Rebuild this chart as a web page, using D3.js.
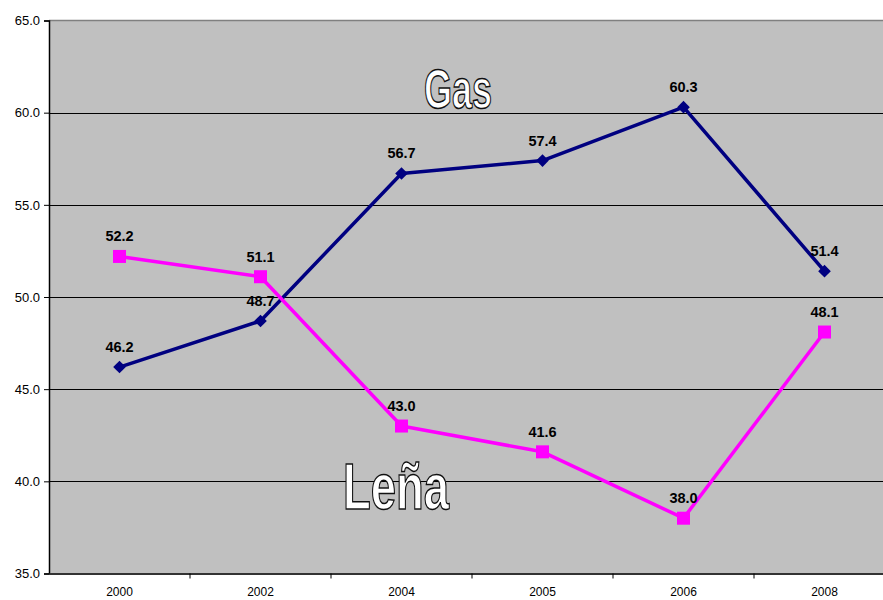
<!DOCTYPE html>
<html><head><meta charset="utf-8">
<script src="https://cdn.jsdelivr.net/npm/d3@7"></script>
<style>body{margin:0;background:#fff}svg{display:block}text{font-family:Arial,"Liberation Sans",sans-serif}</style>
</head><body><svg id="c" width="883" height="600"></svg>
<script>
const years = ["2000","2002","2004","2005","2006","2008"];
const gas = [46.2, 48.7, 56.7, 57.4, 60.3, 51.4];
const lena = [52.2, 51.1, 43.0, 41.6, 38.0, 48.1];
const yTicks = [35, 40, 45, 50, 55, 60, 65];

const svg = d3.select("#c");
const L = 49, R = 895, T = 20.5, B = 573.5;
const x = d3.scaleBand().domain(years).range([L, R]);
const y = d3.scaleLinear().domain([35, 65]).range([B, T]);
const cx = d => x(d) + x.bandwidth() / 2;

svg.append("rect").attr("x", L).attr("y", T).attr("width", R - L).attr("height", B - T).attr("fill", "#C0C0C0");
svg.append("line").attr("x1", L).attr("x2", R).attr("y1", T).attr("y2", T).attr("stroke", "#808080").attr("stroke-width", 1.5);

// gridlines
svg.append("g").selectAll("line").data(yTicks.filter(v => v > 35 && v < 65)).join("line")
  .attr("x1", L).attr("x2", R).attr("y1", d => Math.round(y(d)) + 0.5).attr("y2", d => Math.round(y(d)) + 0.5)
  .attr("stroke", "#000").attr("stroke-width", 1);

// y axis
const ya = svg.append("g").attr("transform", `translate(${L},0)`)
  .call(d3.axisLeft(y).tickValues(yTicks).tickFormat(d3.format(".1f")).tickSize(5).tickPadding(4));
ya.select(".domain").attr("stroke", "#000").attr("stroke-width", 1.5);
ya.selectAll("text").attr("font-size", 13).attr("fill", "#000").attr("font-family", "Arial, 'Liberation Sans', sans-serif");

// x axis
const xa = svg.append("g").attr("transform", `translate(0,${B})`)
  .call(d3.axisBottom(x).tickSize(0).tickPadding(14));
xa.select(".domain").attr("stroke", "#333").attr("stroke-width", 2);
xa.selectAll("text").attr("font-size", 12).attr("fill", "#000").attr("font-family", "Arial, 'Liberation Sans', sans-serif");
svg.append("g").selectAll("line").data(years.slice(1)).join("line")
  .attr("x1", d => x(d)).attr("x2", d => x(d)).attr("y1", B).attr("y2", B + 5).attr("stroke", "#000");

const line = d3.line().x((d, i) => cx(years[i])).y(d => y(d));

// Gas series
svg.append("path").datum(gas).attr("d", line).attr("fill", "none").attr("stroke", "#000080").attr("stroke-width", 3.5).attr("stroke-linejoin", "round");
svg.append("g").selectAll("path").data(gas).join("path")
  .attr("transform", (d, i) => `translate(${cx(years[i])},${y(d)}) rotate(45)`)
  .attr("d", d3.symbol(d3.symbolSquare, 80))
  .attr("fill", "#000080");

// Leña series
svg.append("path").datum(lena).attr("d", line).attr("fill", "none").attr("stroke", "#FF00FF").attr("stroke-width", 3.5).attr("stroke-linejoin", "round");
svg.append("g").selectAll("rect").data(lena).join("rect")
  .attr("x", (d, i) => cx(years[i]) - 6.5).attr("y", d => y(d) - 6.5)
  .attr("width", 13).attr("height", 13).attr("fill", "#FF00FF");

// data labels
const lab = (arr) => svg.append("g").selectAll("text").data(arr).join("text")
  .attr("x", (d, i) => cx(years[i])).attr("y", d => y(d) - 15)
  .attr("text-anchor", "middle").attr("font-size", 14.5).attr("font-weight", "bold").attr("fill", "#000")
  .text(d => d.toFixed(1));
lab(gas); lab(lena);

// big outlined labels
svg.append("text").attr("x", 458).attr("y", 108).attr("text-anchor", "middle")
  .attr("font-size", 56).attr("font-weight", "bold").attr("fill", "#fff").attr("stroke", "#111").attr("stroke-width", 1.5)
  .attr("textLength", 68).attr("lengthAdjust", "spacingAndGlyphs").text("Gas");
svg.append("text").attr("x", 396).attr("y", 509).attr("text-anchor", "middle")
  .attr("font-size", 64).attr("font-weight", "bold").attr("fill", "#fff").attr("stroke", "#111").attr("stroke-width", 1.5)
  .attr("textLength", 106).attr("lengthAdjust", "spacingAndGlyphs").text("Leña");
</script></body></html>
